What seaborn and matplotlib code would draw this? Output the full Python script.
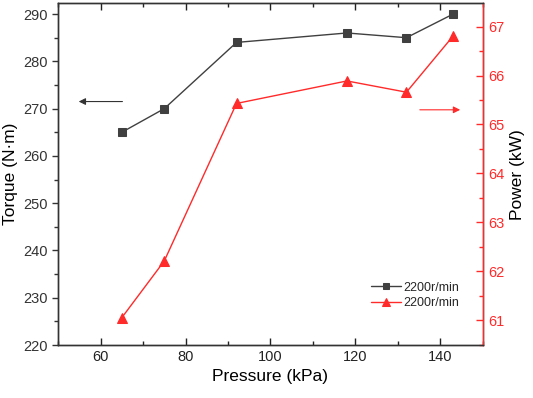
import matplotlib
matplotlib.use("Agg")
import matplotlib.pyplot as plt
from matplotlib.ticker import MultipleLocator
import seaborn as sns
import pandas as pd

# data
pressure = [65, 75, 92, 118, 132, 143]
torque = [265, 270, 284, 286, 285, 290]
power = [61.05, 62.21, 65.43, 65.89, 65.66, 66.81]
series_label = "2200r/min"

sns.set_style("white")
plt.rcParams['font.family'] = ['Liberation Sans', 'DejaVu Sans']

df = pd.DataFrame({"pressure": pressure, "torque": torque, "power": power})

fig = plt.figure(figsize=(5.33, 3.98), dpi=100)
ax = fig.add_axes([0.109, 0.133, 0.797, 0.859])
ax2 = ax.twinx()

grey = "#404040"
red = "#ff2a2a"

sns.lineplot(data=df, x="pressure", y="torque", ax=ax, color=grey, marker="s",
             markersize=5.5, markeredgecolor=grey, linewidth=1.0, label=series_label, legend=False)
sns.lineplot(data=df, x="pressure", y="power", ax=ax2, color=red, marker="^",
             markersize=7, markeredgecolor=red, linewidth=1.0, label=series_label, legend=False)

ax.set_xlim(50, 150)
ax.set_ylim(220, 292.3)
ax2.set_ylim(60.49, 67.48)

ax.xaxis.set_major_locator(MultipleLocator(20))
ax.xaxis.set_minor_locator(MultipleLocator(10))
ax.yaxis.set_major_locator(MultipleLocator(10))
ax.yaxis.set_minor_locator(MultipleLocator(5))
ax2.yaxis.set_major_locator(MultipleLocator(1))
ax2.yaxis.set_minor_locator(MultipleLocator(0.5))

for sp in ax.spines.values():
    sp.set_color("#333333")
    sp.set_linewidth(1.0)
for name, sp in ax2.spines.items():
    sp.set_linewidth(1.0)
    sp.set_color("#333333")
ax2.spines['right'].set_color(red)

ax.tick_params(axis='x', which='both', direction='in', top=True, bottom=True,
               colors="#222222", labelsize=10.5)
ax.tick_params(axis='x', which='major', length=5, width=1)
ax.tick_params(axis='x', which='minor', length=3, width=1)
ax.tick_params(axis='y', which='both', direction='out', left=True,
               colors="#333333", labelsize=10.5)
ax.tick_params(axis='y', which='major', length=4, width=1)
ax.tick_params(axis='y', which='minor', length=3, width=1)
ax2.tick_params(axis='y', which='both', direction='in', right=True,
                colors=red, labelsize=10.5)
ax2.tick_params(axis='y', which='major', length=5, width=1)
ax2.tick_params(axis='y', which='minor', length=3, width=1)

ax.set_xlabel("Pressure (kPa)", fontsize=12.5, color="black")
ax.set_ylabel("Torque (N·m)", fontsize=12.5, color="black", labelpad=4)
ax2.set_ylabel("Power (kW)", fontsize=12.5, color="black", labelpad=4)

# direction arrows
ax.annotate("", xy=(54.2, 271.5), xytext=(65.8, 271.5),
            arrowprops=dict(arrowstyle="-|>", color="#333333", lw=0.8, mutation_scale=10))
ax2.annotate("", xy=(145.3, 65.3), xytext=(134.5, 65.3),
             arrowprops=dict(arrowstyle="-|>", color=red, lw=0.8, mutation_scale=10))

h1, l1 = ax.get_legend_handles_labels()
h2, l2 = ax2.get_legend_handles_labels()
ax2.legend(h1 + h2, l1 + l2, loc="center left", bbox_to_anchor=(0.715, 0.145),
           frameon=False, fontsize=9, handlelength=2.4, handletextpad=0.2,
           labelspacing=0.3, borderpad=0.2, markerscale=0.8)

fig.savefig("out.png", dpi=100)
